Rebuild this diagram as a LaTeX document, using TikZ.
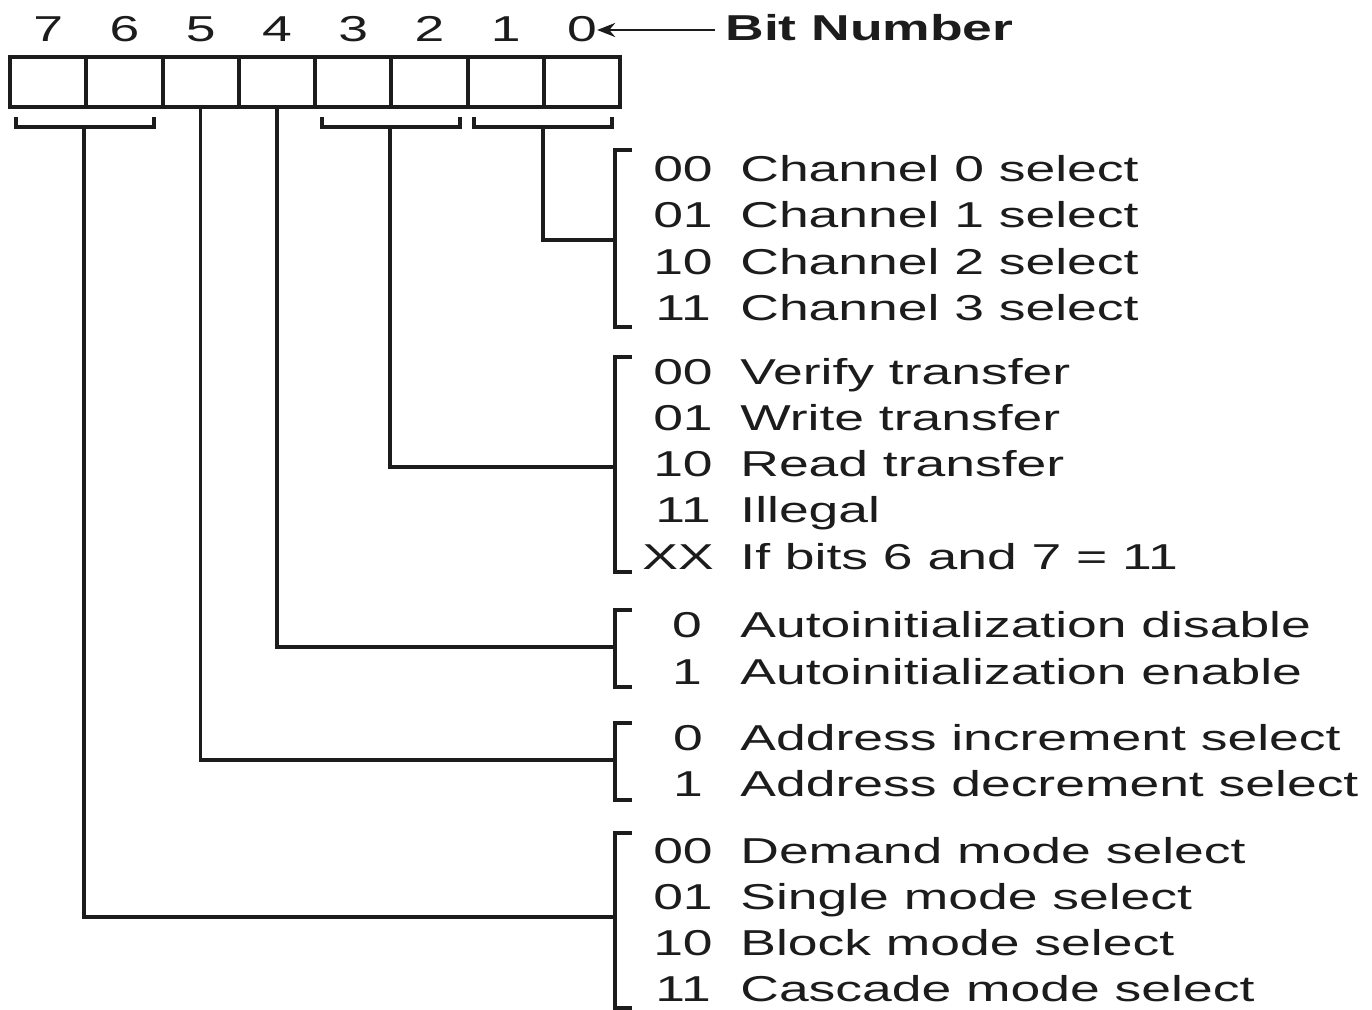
\documentclass[tikz,border=0pt]{standalone}
\usepackage{fontspec}
\setmainfont{Liberation Sans}[FakeStretch=1.485]
\usetikzlibrary{arrows.meta}
\definecolor{ink}{HTML}{1C1C1C}
\begin{document}
\begin{tikzpicture}[x=0.5pt,y=-0.5pt,
  every node/.style={inner sep=0pt, text=ink, font=\fontsize{18}{22}\selectfont},
  cell/.style={draw=ink, line width=2pt, minimum width=38.125pt, minimum height=25pt},
  conn/.style={draw=ink, line width=1.8pt},
  code/.style={anchor=base},
  desc/.style={anchor=base west},
  bitnum/.style={anchor=base}]
\useasboundingbox (0,0) rectangle (1372,1010);
\fill[white] (0,0) rectangle (1372,1010);

% register cells
\foreach \i in {7,...,0} {
  \node[cell] (c\i) at ({10+76.25*(7-\i)+38.125},82) {};
  \node[bitnum] (n\i) at ({10+76.25*(7-\i)+38.125},42) {\i};
}
\node[anchor=base west, font=\fontsize{18}{22}\selectfont\bfseries] (bn) at (725,41) {Bit Number};
\draw[conn, line width=1.3pt, -{Stealth[length=9pt,width=7pt]}] (bn.west |- 0,30) ++(-10,0) coordinate (arrS) -- (n0.east |- 0,30);

% brackets under register
\draw[conn] (16,117) -- (16,127) -- (154,127) -- (154,117);
\draw[conn] (322,117) -- (322,127) -- (460,127) -- (460,117);
\draw[conn] (474,117) -- (474,127) -- (612,127) -- (612,117);
\coordinate (s76) at (84,127);
\coordinate (s32) at (390,127);
\coordinate (s10) at (543,127);

% right-hand brackets
\foreach \t/\b/\g/\m in {150/327/g1/240, 357/572/g2/467, 610/687/g3/647, 723/800/g4/760, 833/1008/g5/917} {
  \draw[conn] (632,\t) -- (615,\t) -- (615,\b) -- (632,\b);
  \coordinate (\g) at (615,\m);
}

% connectors
\draw[conn] (s10) |- (g1);
\draw[conn] (s32) |- (g2);
\draw[conn] (c4.south) |- (g3);
\draw[conn] (c5.south) |- (g4);
\draw[conn] (s76) |- (g5);

% group 1
\node[code] (a1) at (683,182) {00}; \node[desc] (d1) at (740,182) {Channel 0 select};
\node[code] (a2) at (683,228) {01}; \node[desc] (d2) at (740,228) {Channel 1 select};
\node[code] (a3) at (683,275) {10}; \node[desc] (d3) at (740,275) {Channel 2 select};
\node[code] (a4) at (683,321) {11}; \node[desc] (d4) at (740,321) {Channel 3 select};
% group 2
\node[code] (b1) at (683,385) {00}; \node[desc] (e1) at (740,385) {Verify transfer};
\node[code] (b2) at (683,431) {01}; \node[desc] (e2) at (740,431) {Write transfer};
\node[code] (b3) at (683,477) {10}; \node[desc] (e3) at (740,477) {Read transfer};
\node[code] (b4) at (683,523) {11}; \node[desc] (e4) at (740,523) {Illegal};
\node[code] (b5) at (678,570) {XX}; \node[desc] (e5) at (740,570) {If bits 6 and 7 = 11};
% group 3
\node[code] (f1) at (687,638) {0}; \node[desc] (h1) at (740,638) {Autoinitialization disable};
\node[code] (f2) at (687,684) {1}; \node[desc] (h2) at (740,684) {Autoinitialization enable};
% group 4
\node[code] (k1) at (688,750) {0}; \node[desc] (l1) at (740,750) {Address increment select};
\node[code] (k2) at (688,796) {1}; \node[desc] (l2) at (740,796) {Address decrement select};
% group 5
\node[code] (p1) at (683,863) {00}; \node[desc] (q1) at (740,863) {Demand mode select};
\node[code] (p2) at (683,909) {01}; \node[desc] (q2) at (740,909) {Single mode select};
\node[code] (p3) at (683,955) {10}; \node[desc] (q3) at (740,955) {Block mode select};
\node[code] (p4) at (683,1001) {11}; \node[desc] (q4) at (740,1001) {Cascade mode select};
\end{tikzpicture}
\end{document}
